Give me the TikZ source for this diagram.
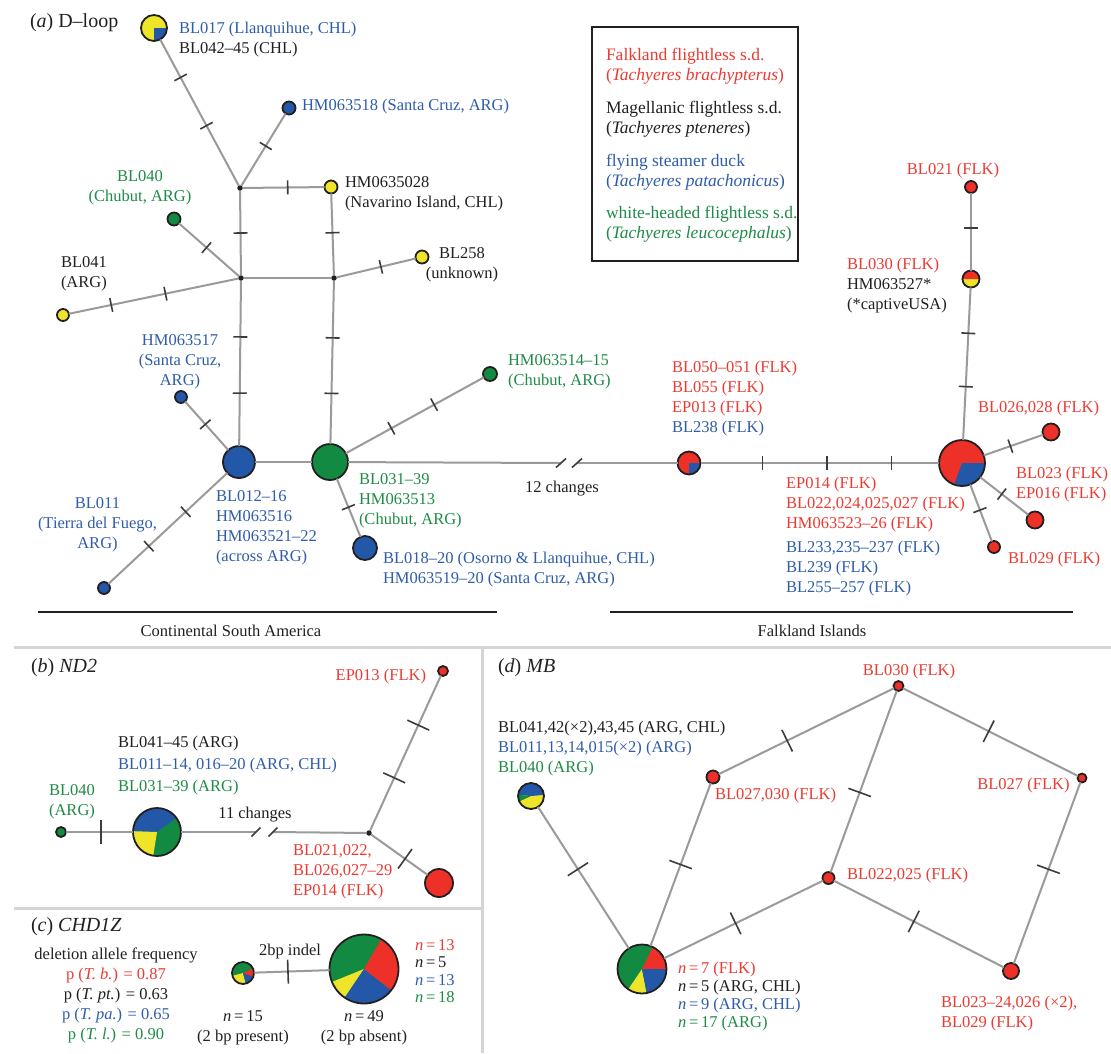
\documentclass[tikz,border=0pt]{standalone}
\usepackage{fontspec}
\setmainfont{Liberation Serif}
\usetikzlibrary{positioning}

\definecolor{flk}{HTML}{EE3128}
\definecolor{mag}{HTML}{EEE52B}
\definecolor{fly}{HTML}{2357A7}
\definecolor{whd}{HTML}{138A41}
\definecolor{flktxt}{HTML}{EC3A32}
\definecolor{flytxt}{HTML}{2F5DA9}
\definecolor{whdtxt}{HTML}{1F8B46}
\definecolor{ink}{HTML}{231F20}
\definecolor{linkgray}{HTML}{9A9A9A}
\definecolor{tickgray}{HTML}{3C3C3C}
\definecolor{panelgray}{HTML}{D4D4D4}

\newcommand{\lbl}{\fontsize{16.5}{20}\selectfont}
\newcommand{\ttl}{\fontsize{20}{24}\selectfont}
\newcommand{\mutA}{\rule{1.6pt}{14pt}}
\newcommand{\mutB}{\rule{1.6pt}{24pt}}
\newcommand{\Fk}[1]{\textcolor{flktxt}{#1}}
\newcommand{\Fy}[1]{\textcolor{flytxt}{#1}}
\newcommand{\Wh}[1]{\textcolor{whdtxt}{#1}}
\newcommand{\nis}[1]{\textit{n}\,=\,#1}

\tikzstyle{hap} = [circle,draw=ink,line width=1.8pt,inner sep=0pt,outer sep=0pt]
\tikzstyle{jn} = [circle,fill=ink,inner sep=0pt,outer sep=0pt,minimum size=5.5pt]
\tikzstyle{link} = [draw=linkgray,line width=2pt]
\tikzstyle{mut} = [sloped,inner sep=0pt,outer sep=0pt,text=tickgray]
\tikzstyle{brk} = [draw=tickgray,line width=1.6pt]
\tikzstyle{region} = [draw=ink,line width=2.4pt]
\tikzstyle{panel} = [draw=panelgray,line width=3pt]
\tikzstyle{lab} = [inner sep=0pt,outer sep=0pt,font=\lbl,text=ink,align=left]
\tikzset{pie/.style={path picture={
	\foreach \c/\s/\e in {#1}
		\fill[\c] (path picture bounding box.center) -- ++(\s:40pt)
			arc[start angle=\s,end angle=\e,radius=40pt] -- cycle;}}}

\begin{document}
\begin{tikzpicture}[x=1pt,y=1pt]

	\fill[white] (0,0) rectangle (1111,-1053);
	\useasboundingbox (0,0) rectangle (1111,-1053);

	% (a) D-loop haplotypes
	\node[hap,fill=mag,minimum size=26pt,pie={fly/270/360}] (bl017) at (154,-28) {};
	\node[jn] (j1) at (240,-188) {};
	\node[hap,fill=fly,minimum size=13pt] (hm518) at (289,-108) {};
	\node[hap,fill=mag,minimum size=13pt] (hm028) at (331,-187) {};
	\node[jn] (j2) at (241,-278) {};
	\node[jn] (j3) at (334,-278) {};
	\node[hap,fill=mag,minimum size=13pt] (bl258) at (422,-257) {};
	\node[hap,fill=whd,minimum size=13pt] (bl040) at (174,-219) {};
	\node[hap,fill=mag,minimum size=12pt] (bl041) at (63,-315) {};
	\node[hap,fill=fly,minimum size=32pt] (bl012) at (239,-462) {};
	\node[hap,fill=whd,minimum size=36pt] (bl031) at (330,-462) {};
	\node[hap,fill=fly,minimum size=12pt] (hm517) at (181,-397) {};
	\node[hap,fill=fly,minimum size=12pt] (bl011) at (104,-588) {};
	\node[hap,fill=whd,minimum size=14pt] (hm514) at (490,-374) {};
	\node[hap,fill=fly,minimum size=24pt] (bl018) at (365,-548) {};
	\coordinate (brkA) at (561,-463);
	\coordinate (brkB) at (577,-463);
	\node[hap,fill=flk,minimum size=23pt,pie={fly/270/360}] (bl050) at (689,-463) {};
	\node[hap,fill=flk,minimum size=46pt,pie={fly/250/360}] (flkbig) at (962,-463) {};
	\node[hap,fill=mag,minimum size=17pt,pie={flk/0/180}] (bl030) at (971,-279) {};
	\node[hap,fill=flk,minimum size=12pt] (bl021) at (971,-187) {};
	\node[hap,fill=flk,minimum size=17pt] (bl026) at (1051,-432) {};
	\node[hap,fill=flk,minimum size=17pt] (bl023) at (1035,-520) {};
	\node[hap,fill=flk,minimum size=12pt] (bl029) at (994,-547) {};

	\path[link]
		(bl017) edge node[mut,pos=.26]{\mutA} node[mut,pos=.59]{\mutA} (j1)
		(j1) edge node[mut,pos=.55]{\mutA} (hm518)
		(j1) edge node[mut,pos=.55]{\mutA} (hm028)
		(j1) edge node[mut,pos=.5]{\mutA} (j2)
		(hm028) edge node[mut,pos=.48]{\mutA} (j3)
		(j2) edge (j3)
		(j3) edge node[mut,pos=.56]{\mutA} (bl258)
		(bl040) edge node[mut,pos=.46]{\mutA} (j2)
		(bl041) edge node[mut,pos=.25]{\mutA} node[mut,pos=.57]{\mutA} (j2)
		(j2) edge node[mut,pos=.34]{\mutA} node[mut,pos=.68]{\mutA} (bl012)
		(j3) edge node[mut,pos=.35]{\mutA} node[mut,pos=.69]{\mutA} (bl031)
		(bl012) edge (bl031)
		(hm517) edge node[mut,pos=.47]{\mutA} (bl012)
		(bl011) edge node[mut,pos=.34]{\mutA} node[mut,pos=.65]{\mutA} (bl012)
		(bl031) edge node[mut,pos=.33]{\mutA} node[mut,pos=.64]{\mutA} (hm514)
		(bl031) edge node[mut,pos=.49]{\mutA} (bl018)
		(bl031) edge (brkA)
		(brkB) edge (bl050)
		(bl050) edge node[mut,pos=.26]{\mutA} node[mut,pos=.53]{\mutA} node[mut,pos=.8]{\mutA} (flkbig)
		(flkbig) edge node[mut,pos=.35]{\mutA} node[mut,pos=.7]{\mutA} (bl030)
		(bl030) edge node[mut,pos=.55]{\mutA} (bl021)
		(flkbig) edge node[mut,pos=.45]{\mutA} (bl026)
		(flkbig) edge node[mut,pos=.45]{\mutA} (bl023)
		(flkbig) edge node[mut,pos=.45]{\mutA} (bl029)
		;
	\draw[brk] (brkA) ++(-5,-4.5) -- ++(10,9);
	\draw[brk] (brkB) ++(-5,-4.5) -- ++(10,9);

	% (a) labels
	\node[lab,font=\ttl,anchor=north west] (titleA) at (30,-14) {(\textit{a}) D–loop};
	\node[lab,anchor=north west] (t017) at (179,-22.5) {\Fy{BL017 (Llanquihue, CHL)}\\BL042–45 (CHL)};
	\node[lab,anchor=north west] (t518) at (302,-99.5) {\Fy{HM063518 (Santa Cruz, ARG)}};
	\node[lab,anchor=north west] (t028) at (345,-176.5) {HM0635028\\(Navarino Island, CHL)};
	\node[lab,anchor=north,align=center] (t258) at (462,-247.5) {BL258\\(unknown)};
	\node[lab,anchor=north,align=center] (t040) at (140,-170.5) {\Wh{BL040}\\\Wh{(Chubut, ARG)}};
	\node[lab,anchor=north west] (t041) at (61,-256.5) {BL041\\(ARG)};
	\node[lab,anchor=north,align=center] (t517) at (180,-334.5) {\Fy{HM063517}\\\Fy{(Santa Cruz,}\\\Fy{ARG)}};
	\node[lab,anchor=north,align=center] (t011) at (97.5,-497.5) {\Fy{BL011}\\\Fy{(Tierra del Fuego,}\\\Fy{ARG)}};
	\node[lab,anchor=north west] (t012) at (216,-490.5) {\Fy{BL012–16}\\\Fy{HM063516}\\\Fy{HM063521–22}\\\Fy{(across ARG)}};
	\node[lab,anchor=north west] (t031) at (359,-473.5) {\Wh{BL031–39}\\\Wh{HM063513}\\\Wh{(Chubut, ARG)}};
	\node[lab,anchor=north west] (t018) at (383,-552.5) {\Fy{BL018–20 (Osorno \& Llanquihue, CHL)}\\\Fy{HM063519–20 (Santa Cruz, ARG)}};
	\node[lab,anchor=north west] (t514) at (508,-354.5) {\Wh{HM063514–15}\\\Wh{(Chubut, ARG)}};
	\node[lab,anchor=north] (t12) at (562,-481.5) {12 changes};
	\node[lab,anchor=north west] (t050) at (672,-361.5) {\Fk{BL050–051 (FLK)}\\\Fk{BL055 (FLK)}\\\Fk{EP013 (FLK)}\\\Fy{BL238 (FLK)}};
	\node[lab,anchor=north west] (t014) at (786,-477.5) {\Fk{EP014 (FLK)}\\\Fk{BL022,024,025,027 (FLK)}\\\Fk{HM063523–26 (FLK)}\\[4pt]\Fy{BL233,235–237 (FLK)}\\\Fy{BL239 (FLK)}\\\Fy{BL255–257 (FLK)}};
	\node[lab,anchor=north] (t021) at (953,-163.5) {\Fk{BL021 (FLK)}};
	\node[lab,anchor=north west] (t030) at (847,-258.5) {\Fk{BL030 (FLK)}\\HM063527*\\(*captiveUSA)};
	\node[lab,anchor=north west] (t026) at (978,-401.5) {\Fk{BL026,028 (FLK)}};
	\node[lab,anchor=north west] (t023) at (1016,-467.5) {\Fk{BL023 (FLK)}\\\Fk{EP016 (FLK)}};
	\node[lab,anchor=north west] (t029) at (1008,-552.5) {\Fk{BL029 (FLK)}};

	% legend
	\node[draw=ink,line width=2.2pt,minimum width=206pt,minimum height=234pt,inner sep=0pt] (legbox) at (695,-144) {};
	\node[lab,font=\fontsize{17.5}{20}\selectfont,anchor=north west] (legtxt) at (606,-48)
		{\Fk{Falkland flightless s.d.}\\\Fk{(\textit{Tachyeres brachypterus})}\\[13pt]
		 Magellanic flightless s.d.\\(\textit{Tachyeres pteneres})\\[13pt]
		 \Fy{flying steamer duck}\\\Fy{(\textit{Tachyeres patachonicus})}\\[12pt]
		 \Wh{white-headed flightless s.d.}\\\Wh{(\textit{Tachyeres leucocephalus})}};

	% regions
	\coordinate (csaL) at (38,-612);
	\coordinate (csaR) at (497,-612);
	\coordinate (fiL) at (610,-612);
	\coordinate (fiR) at (1073,-612);
	\draw[region] (csaL) -- (csaR);
	\draw[region] (fiL) -- (fiR);
	\node[lab,anchor=north] (tcsa) at (231,-625.5) {Continental South America};
	\node[lab,anchor=north] (tfi) at (812,-625.5) {Falkland Islands};

	% panel frames
	\coordinate (sepL) at (14,-647);
	\coordinate (sepR) at (1111,-647);
	\coordinate (sepM) at (482,-647);
	\coordinate (sepB) at (482,-1053);
	\coordinate (sepCL) at (14,-908);
	\coordinate (sepCR) at (482,-908);
	\draw[panel] (sepL) -- (sepR);
	\draw[panel] (sepM) -- (sepB);
	\draw[panel] (sepCL) -- (sepCR);

	% (b) ND2
	\node[hap,fill=whd,minimum size=10pt] (ndG) at (61,-832) {};
	\node[hap,fill=whd,minimum size=48pt,pie={fly/36/178,mag/178/261}] (ndPie) at (157,-832) {};
	\coordinate (brkC) at (256,-832);
	\coordinate (brkD) at (273,-832);
	\node[jn] (ndJ) at (369,-833) {};
	\node[hap,fill=flk,minimum size=10pt] (ndEP) at (443,-671) {};
	\node[hap,fill=flk,minimum size=28pt] (ndR) at (439,-883) {};

	\path[link]
		(ndG) edge node[mut,pos=.52]{\mutB} (ndPie)
		(ndPie) edge (brkC)
		(brkD) edge (ndJ)
		(ndJ) edge node[mut,pos=.34]{\mutB} node[mut,pos=.68]{\mutB} (ndEP)
		(ndJ) edge node[mut,pos=.6]{\mutB} (ndR)
		;
	\draw[brk] (brkC) ++(-4.5,-4.5) -- ++(9,9);
	\draw[brk] (brkD) ++(-4.5,-4.5) -- ++(9,9);

	\node[lab,font=\ttl,anchor=north west] (titleB) at (31,-659) {(\textit{b}) \textit{ND2}};
	\node[lab,anchor=north east] (tEP) at (426,-669.5) {\Fk{EP013 (FLK)}};
	\node[lab,anchor=north west] (tNd) at (118,-736.5) {BL041–45 (ARG)\\[2pt]\Fy{BL011–14, 016–20 (ARG, CHL)}\\[2pt]\Wh{BL031–39 (ARG)}};
	\node[lab,anchor=north,align=center] (tNdG) at (72,-784.5) {\Wh{BL040}\\\Wh{(ARG)}};
	\node[lab,anchor=north] (t11) at (255,-807.5) {11 changes};
	\node[lab,anchor=north west] (tNdR) at (293,-844.5) {\Fk{BL021,022,}\\\Fk{BL026,027–29}\\\Fk{EP014 (FLK)}};

	% (c) CHD1Z
	\node[hap,fill=whd,minimum size=22pt,pie={mag/195/285,fly/285/340,flk/340/385}] (chS) at (243,-973) {};
	\node[hap,fill=whd,minimum size=69pt,pie={mag/202/236,fly/236/322,flk/322/420}] (chL) at (364,-969) {};
	\path[link]
		(chS) edge node[mut,pos=.45]{\mutB} (chL);

	\node[lab,font=\ttl,anchor=north west] (titleC) at (31,-918) {(\textit{c}) \textit{CHD1Z}};
	\node[lab,anchor=north,align=center] (tfreq) at (116,-947.5)
		{deletion allele frequency\\\Fk{p (\textit{T. b.}) = 0.87}\\p (\textit{T. pt.}) = 0.63\\\Fy{p (\textit{T. pa.}) = 0.65}\\\Wh{p (\textit{T. l.}) = 0.90}};
	\node[lab,anchor=north] (tindel) at (290,-944.5) {2bp indel};
	\node[lab,anchor=north,align=center] (tchS) at (243,-1010.5) {\nis{15}\\(2 bp present)};
	\node[lab,anchor=north,align=center] (tchL) at (364,-1010.5) {\nis{49}\\(2 bp absent)};
	\node[lab,font=\fontsize{16.5}{17.5}\selectfont,anchor=north west] (tchN) at (415,-939.5)
		{\Fk{\nis{13}}\\\nis{5}\\\Fy{\nis{13}}\\\Wh{\nis{18}}};

	% (d) MB
	\node[hap,fill=mag,minimum size=26pt,pie={fly/5/175,whd/175/205}] (mbP) at (531,-796) {};
	\node[hap,fill=whd,minimum size=49pt,pie={flk/0/64,mag/236/281,fly/281/360}] (mbBig) at (642,-969) {};
	\node[hap,fill=flk,minimum size=13pt] (mb27) at (713,-777) {};
	\node[hap,fill=flk,minimum size=10pt] (mb30) at (898.5,-686) {};
	\node[hap,fill=flk,minimum size=12pt] (mb22) at (828.5,-878) {};
	\node[hap,fill=flk,minimum size=9pt] (mb27b) at (1082,-778) {};
	\node[hap,fill=flk,minimum size=16pt] (mb23) at (1011,-971) {};

	\path[link]
		(mbP) edge node[mut,pos=.44]{\mutB} (mbBig)
		(mbBig) edge node[mut,pos=.5]{\mutB} (mb27)
		(mb27) edge node[mut,pos=.39]{\mutB} (mb30)
		(mb30) edge node[mut,pos=.56]{\mutB} (mb22)
		(mb30) edge node[mut,pos=.49]{\mutB} (mb27b)
		(mb27b) edge node[mut,pos=.48]{\mutB} (mb23)
		(mbBig) edge node[mut,pos=.45]{\mutB} (mb22)
		(mb22) edge node[mut,pos=.47]{\mutB} (mb23)
		;

	\node[lab,font=\ttl,anchor=north west] (titleD) at (498,-659) {(\textit{d}) \textit{MB}};
	\node[lab,anchor=north] (tmb30) at (909,-664.5) {\Fk{BL030 (FLK)}};
	\node[lab,anchor=north west] (tmbP) at (498,-721.5) {BL041,42(×2),43,45 (ARG, CHL)\\\Fy{BL011,13,14,015(×2) (ARG)}\\\Wh{BL040 (ARG)}};
	\node[lab,anchor=north west] (tmb27) at (715,-788.5) {\Fk{BL027,030 (FLK)}};
	\node[lab,anchor=north east] (tmb27b) at (1069.5,-778.5) {\Fk{BL027 (FLK)}};
	\node[lab,anchor=north west] (tmb22) at (847,-868.5) {\Fk{BL022,025 (FLK)}};
	\node[lab,anchor=north west] (tmb23) at (941,-996.5) {\Fk{BL023–24,026 (×2),}\\\Fk{BL029 (FLK)}};
	\node[lab,font=\fontsize{16.5}{18}\selectfont,anchor=north west] (tmbN) at (678,-962.5)
		{\Fk{\nis{7} (FLK)}\\\nis{5} (ARG, CHL)\\\Fy{\nis{9} (ARG, CHL)}\\\Wh{\nis{17} (ARG)}};

\end{tikzpicture}
\end{document}
